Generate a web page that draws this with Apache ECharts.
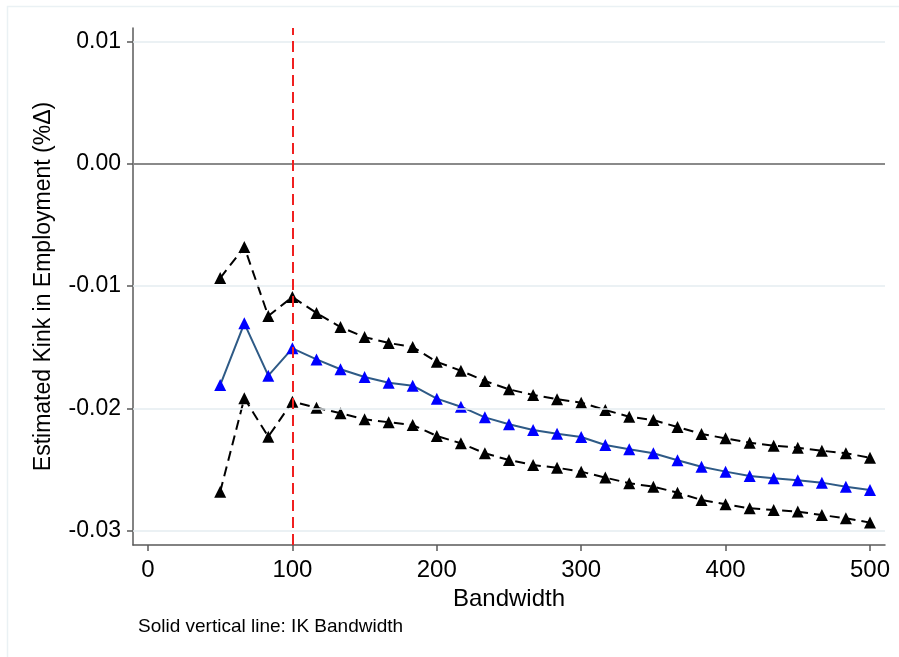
<!DOCTYPE html>
<html>
<head>
<meta charset="utf-8">
<script src="https://cdn.jsdelivr.net/npm/echarts@6/dist/echarts.min.js"></script>
<style>
html,body{margin:0;padding:0;background:#fff;}
#chart{width:899px;height:657px;}
</style>
</head>
<body>
<div id="chart"></div>
<script>
const bandwidths = [50, 66.7, 83.3, 100, 116.7, 133.3, 150, 166.7, 183.3, 200, 216.7, 233.3, 250, 266.7, 283.3, 300, 316.7, 333.3, 350, 366.7, 383.3, 400, 416.7, 433.3, 450, 466.7, 483.3, 500];
const upperCI = [-0.00935, -0.00681, -0.01245, -0.01090, -0.01221, -0.01336, -0.01418, -0.01466, -0.01499, -0.01620, -0.01693, -0.01777, -0.01845, -0.01891, -0.01926, -0.01954, -0.02014, -0.02069, -0.02096, -0.02153, -0.02210, -0.02246, -0.02281, -0.02306, -0.02322, -0.02347, -0.02368, -0.02404];
const estimate = [-0.01810, -0.01305, -0.01733, -0.01510, -0.01600, -0.01681, -0.01744, -0.01791, -0.01815, -0.01921, -0.01987, -0.02074, -0.02131, -0.02177, -0.02208, -0.02235, -0.02300, -0.02335, -0.02368, -0.02425, -0.02478, -0.02518, -0.02554, -0.02573, -0.02589, -0.02608, -0.02641, -0.02668];
const lowerCI = [-0.02682, -0.01918, -0.02232, -0.01946, -0.01995, -0.02041, -0.02090, -0.02114, -0.02137, -0.02226, -0.02286, -0.02368, -0.02423, -0.02464, -0.02486, -0.02518, -0.02567, -0.02613, -0.02641, -0.02690, -0.02750, -0.02785, -0.02818, -0.02832, -0.02845, -0.02873, -0.02900, -0.02935];
const xTicks = [0, 100, 200, 300, 400, 500];
const yTicks = [-0.03, -0.02, -0.01, 0.00, 0.01];
const gridLineValues = [-0.03, -0.02, -0.01, 0.01];
const ikBandwidth = 100;
const zeroLine = 0;

const pair = arr => bandwidths.map((b, i) => [b, arr[i]]);
const regular = "'Liberation Sans', Arial, sans-serif";

const chart = echarts.init(document.getElementById('chart'), null, {renderer: 'canvas'});
chart.setOption({
  backgroundColor: '#ffffff',
  animation: false,
  graphic: [
    {type: 'rect', left: 5, top: 4, shape: {width: 1000, height: 1000}, style: {fill: 'none', stroke: '#eaf1f4', lineWidth: 1.5}, silent: true, z: -10},
    {type: 'text', left: 138, top: 617, style: {text: 'Solid vertical line: IK Bandwidth', font: "19px " + regular, fill: '#000'}}
  ],
  grid: {left: 133, right: 14, top: 28, bottom: 112, containLabel: false},
  xAxis: {
    type: 'value', min: -10.39, max: 510.4,
    name: 'Bandwidth', nameLocation: 'middle', nameGap: 31,
    nameTextStyle: {fontFamily: regular, fontSize: 24, color: '#000'},
    axisLine: {show: true, onZero: false, lineStyle: {color: '#5a5a5a', width: 1.5}},
    axisTick: {show: true, customValues: xTicks, length: 6, lineStyle: {color: '#5a5a5a', width: 1.5}},
    axisLabel: {customValues: xTicks, margin: 13, fontFamily: regular, fontSize: 24, color: '#000'},
    splitLine: {show: false}
  },
  yAxis: {
    type: 'value', min: -0.03118, max: 0.0111,
    name: 'Estimated Kink in Employment (%Δ)', nameLocation: 'middle', nameGap: 78,
    nameTextStyle: {fontFamily: regular, fontSize: 23, color: '#000'},
    axisLine: {show: true, onZero: false, lineStyle: {color: '#5a5a5a', width: 1.5}},
    axisTick: {show: true, customValues: yTicks, length: 6, lineStyle: {color: '#5a5a5a', width: 1.5}},
    axisLabel: {customValues: yTicks, margin: 12, fontFamily: regular, fontSize: 23, color: '#000',
      formatter: v => v.toFixed(2)},
    splitLine: {show: false}
  },
  series: [
    {
      type: 'line', data: [], z: 1, silent: true,
      markLine: {
        silent: true, symbol: 'none', label: {show: false}, animation: false,
        data: [
          ...gridLineValues.map(v => ({yAxis: v, lineStyle: {color: '#e4edf0', width: 1.5, type: 'solid'}})),
          {yAxis: zeroLine, lineStyle: {color: '#8a8a8a', width: 1.8, type: 'solid'}},
          {xAxis: ikBandwidth, lineStyle: {color: '#f02020', width: 2, type: [11, 6]}}
        ]
      }
    },
    {
      name: 'Upper', type: 'line', data: pair(upperCI), z: 3,
      symbol: 'triangle', symbolSize: 12, showAllSymbol: true,
      itemStyle: {color: '#000'},
      lineStyle: {color: '#000', width: 2, type: [10, 6]}
    },
    {
      name: 'Lower', type: 'line', data: pair(lowerCI), z: 3,
      symbol: 'triangle', symbolSize: 12, showAllSymbol: true,
      itemStyle: {color: '#000'},
      lineStyle: {color: '#000', width: 2, type: [10, 6]}
    },
    {
      name: 'Estimate', type: 'line', data: pair(estimate), z: 4,
      symbol: 'triangle', symbolSize: 12, showAllSymbol: true,
      itemStyle: {color: '#0000ff'},
      lineStyle: {color: '#2e5a86', width: 2, type: 'solid'}
    }
  ]
});
</script>
</body>
</html>
